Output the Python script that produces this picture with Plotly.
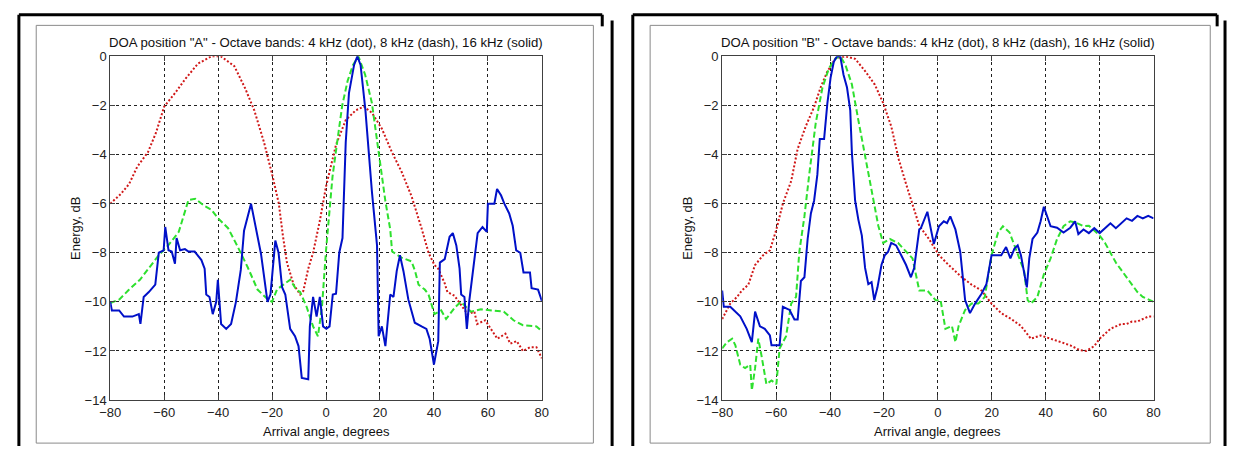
import plotly.graph_objects as go

W, H = 1234, 454

# ---------------- Data ----------------
# Position A
redA_x = [-80,-76,-73,-70,-66,-63,-60,-56,-52,-47.5,-42.5,-39,-34,-30,-26.6,-23,-20,-17.5,-16,-14.5,-12,-9.6,-8.4,-6.6,-4.8,-2.3,0,3.7,7.3,11,14,17,20.7,24.4,28,31.7,35.4,38,40.2,41.6,44,45,47.6,50,52.5,55,56,59,61,63.5,66.5,68.3,70.7,73,75.6,78,80]
redA_y = [-6,-5.6,-5.2,-4.5,-3.9,-3.1,-2.05,-1.5,-0.9,-0.3,0,0,-0.4,-1.3,-2.2,-3.5,-4.8,-6.0,-7.3,-8.4,-9.3,-9.7,-9.55,-8.65,-8.0,-6.7,-5.3,-3.6,-2.6,-2.2,-2.05,-2.3,-2.95,-3.9,-4.7,-5.7,-7.0,-8.0,-8.5,-8.65,-9.25,-9.6,-9.75,-10.1,-10.5,-10.4,-10.9,-10.75,-11.1,-11.5,-11.3,-11.7,-11.6,-12.0,-11.85,-11.85,-12.3]

greenA_x = [-80,-76.6,-73,-69,-65.5,-62,-58.5,-54.6,-51,-48.5,-45,-42.5,-40,-36.3,-33,-29,-25.4,-21.6,-20,-18.2,-15.8,-13.3,-11,-9.6,-7.2,-4.8,-3,-1.5,0,1.2,2.4,4,6,8,10,12,14.5,17,19.5,22,23.8,24.5,28,31.7,33,34.3,36.6,38,40.2,42.7,44.5,46.3,48,50,53.7,57.4,61,65.9,69.5,73,78,80]
greenA_y = [-10.05,-9.9,-9.5,-9.1,-8.6,-8.1,-7.7,-7.15,-5.85,-5.8,-6.1,-6.25,-6.6,-7.0,-7.7,-8.6,-9.5,-9.9,-10.0,-9.5,-9.3,-9.1,-9.5,-9.6,-10.2,-11.0,-11.4,-10.2,-7.9,-6.3,-4.9,-3.6,-2.0,-1.0,-0.35,0,-0.75,-1.9,-3.9,-5.9,-7.05,-7.95,-8.2,-8.35,-8.75,-9.3,-9.5,-9.7,-10.5,-10.35,-10.7,-10.45,-10.2,-10.0,-10.4,-10.3,-10.35,-10.4,-10.75,-10.95,-11.0,-11.2]

blueA_x = [-80,-79.4,-76.7,-74.9,-71.8,-69.4,-68.8,-67.6,-65.7,-63.3,-62,-60.2,-59.6,-59,-58.4,-57.2,-56,-55.4,-54.1,-52.3,-51,-48.7,-46.2,-45,-44.4,-43.2,-42,-40.7,-40.1,-38.9,-37,-35.2,-33.4,-31.6,-30.4,-27.8,-25.4,-24.1,-21.7,-20.6,-18.8,-17.6,-16.3,-15.1,-13.3,-11.5,-10.2,-9,-6.6,-6,-4.8,-3.5,-2.3,-1.1,0.1,1.3,2.5,3.7,4.9,6.1,7.3,8.5,10.4,11.6,12.8,14.6,17,18.3,18.9,19.5,20.7,22,23.8,25,26.2,27.4,28.7,30.5,32.9,35.4,37.2,38.4,40,41.6,42.2,44,45.8,47,48.3,49.5,50.1,51.3,52.2,53.1,55,56.2,58,59.6,60,62.4,63.4,64.9,66.1,67.3,67.9,69.2,69.8,70.5,72,73.2,75.6,76.2,78.6,80]
blueA_y = [-10.0,-10.35,-10.35,-10.6,-10.6,-10.5,-10.9,-9.8,-9.6,-9.3,-8.0,-7.9,-6.95,-7.35,-7.9,-7.95,-8.45,-7.4,-7.9,-7.85,-7.95,-7.95,-8.3,-8.65,-9.7,-9.8,-10.5,-10.0,-9.1,-10.9,-11.1,-10.9,-10.0,-8.7,-7.1,-6.0,-7.4,-8.05,-10.0,-9.7,-7.5,-8.0,-9.4,-9.7,-11.1,-11.4,-11.8,-13.1,-13.15,-11.0,-9.8,-10.6,-9.8,-11.0,-11.1,-11.0,-9.7,-9.67,-8.0,-7.4,-3.5,-1.5,-0.35,0,-0.35,-2.2,-5.5,-7.2,-7.7,-11.4,-11.0,-11.8,-9.7,-9.8,-8.75,-8.1,-8.75,-9.9,-10.85,-11.0,-11.1,-11.5,-12.55,-11.6,-8.4,-8.26,-7.35,-7.2,-7.7,-8.65,-9.7,-9.8,-11.1,-9.96,-8.4,-7.2,-6.95,-7.15,-6.0,-6.0,-5.4,-5.67,-6.0,-6.26,-6.4,-6.9,-7.44,-7.9,-8.0,-8.8,-8.8,-9.44,-9.5,-9.96]

# Position B
redB_x = [-80,-77,-74.5,-72.7,-70.3,-67.8,-64.8,-62.3,-59.9,-57.5,-54.4,-52,-49,-45.9,-43.5,-41,-38,-34.3,-30.7,-27,-23.4,-20.3,-17.3,-14.5,-11.8,-9.4,-6.9,-3.3,0.4,4,6.5,8.9,12.5,16.2,19.9,23.5,27.2,30.8,34.5,38.1,41.8,45.4,49.1,52.7,55,58,60,62,64,66,68,70,72,74,76,78,80]
redB_y = [-10.7,-10.07,-9.8,-9.54,-9.3,-8.5,-8.1,-7.9,-7.05,-6.0,-5.08,-3.77,-2.85,-2.06,-1.27,-0.62,-0.09,0,-0.1,-0.6,-1.15,-1.9,-2.85,-4.2,-5.2,-6.0,-6.9,-7.44,-8.1,-8.5,-8.75,-9.0,-9.3,-9.54,-10.07,-10.46,-10.7,-10.98,-11.5,-11.37,-11.5,-11.64,-11.77,-11.97,-12.0,-11.8,-11.5,-11.3,-11.1,-11.0,-10.9,-10.9,-10.8,-10.8,-10.7,-10.6,-10.6]

greenB_x = [-80,-78.2,-76.3,-75.1,-73.3,-71.5,-69.6,-69,-67.8,-66.6,-65.4,-63.6,-61.7,-59.9,-58.7,-56.3,-54.4,-52.6,-51.4,-49.5,-47.7,-45.3,-42.8,-40.4,-38,-36.2,-34.3,-31.9,-29.5,-27,-24.6,-22.1,-20.3,-17.8,-14.8,-11.8,-9.4,-6.9,-3.9,-0.85,1,2.8,5.2,6.5,7.7,10.1,12.5,15,17.4,19.9,22.3,24.1,26.6,28.4,30.2,32,33.3,34.5,36.9,39.3,41.8,44.2,46.6,49.1,51.5,54,56,58,60,62,64,66,68,70,72,74,76,78,80]
greenB_y = [-11.9,-11.64,-11.5,-11.77,-12.56,-12.7,-12.56,-13.6,-12.7,-11.5,-12.2,-13.35,-13.2,-13.35,-11.9,-11.4,-10.07,-9.8,-7.97,-6.52,-4.8,-2.72,-1.27,-0.49,-0.09,0,-0.35,-1.14,-2.6,-4.03,-5.34,-6.9,-7.6,-7.44,-7.6,-7.97,-8.23,-9.54,-9.54,-9.93,-9.93,-11.1,-10.98,-11.64,-10.98,-10.33,-10.07,-10.07,-9.8,-8.1,-7.18,-6.92,-7.18,-7.7,-8.23,-8.75,-9.93,-10.07,-9.8,-8.88,-8.23,-7.44,-6.92,-6.72,-6.79,-6.92,-6.9,-7.1,-7.3,-7.6,-8.0,-8.4,-8.7,-9.0,-9.3,-9.6,-9.8,-9.9,-10.0]

blueB_x = [-80,-79.4,-77,-74.5,-73.3,-70.9,-69,-67.8,-66,-64.2,-62.3,-61.7,-58.7,-57.5,-55,-53.2,-52,-50.8,-49.5,-48.3,-47.1,-45.9,-44.7,-43.8,-42.2,-41,-39.8,-38.6,-37.4,-36.2,-35,-33.7,-32.5,-31.9,-30.7,-29.5,-28.2,-27,-25.8,-24.6,-23.6,-22.4,-20.9,-19.7,-18.5,-17.3,-15.5,-13.6,-11.8,-10,-8.8,-6.9,-6.3,-3.9,-1.5,0.4,2.2,3.4,4.6,6.5,8.3,10.1,11.9,13.8,16.2,18,19.9,21.7,23.5,25.3,26.9,28.4,29.6,30.8,32,33,33.9,35.1,36.9,38.1,39.3,40.6,41.8,44.2,46.6,49.1,50.9,52.1,54,56,58,60,62,64,66,68,70,72,74,76,78,80]
blueB_y = [-9.54,-10.2,-10.2,-10.46,-10.59,-11.1,-11.64,-10.4,-11.0,-11.1,-11.37,-11.77,-11.77,-10.2,-10.33,-10.72,-10.72,-9.15,-9.0,-7.44,-6.4,-5.87,-4.82,-3.37,-3.37,-1.93,-0.88,-0.22,0,0,-0.75,-1.27,-2.2,-3.9,-5.87,-6.65,-7.3,-8.62,-9.28,-9.2,-9.93,-9.41,-8.49,-8.1,-7.97,-7.6,-7.7,-8.1,-8.5,-9.0,-8.62,-7.05,-7.0,-6.33,-7.64,-6.92,-6.72,-6.79,-6.52,-7.05,-7.97,-9.93,-10.46,-10.07,-9.67,-9.28,-8.1,-8.1,-8.1,-7.77,-8.23,-7.83,-7.7,-8.1,-8.75,-9.41,-8.23,-7.44,-7.18,-6.72,-6.13,-6.52,-6.92,-6.98,-7.18,-6.98,-6.72,-7.24,-7.05,-7.2,-7.0,-7.2,-7.0,-6.8,-7.0,-6.8,-6.6,-6.7,-6.5,-6.6,-6.5,-6.6]

x_ticks = [-80, -60, -40, -20, 0, 20, 40, 60, 80]
y_ticks = [0, -2, -4, -6, -8, -10, -12, -14]

titles = ['DOA position "A" - Octave bands: 4 kHz (dot), 8 kHz (dash), 16 kHz (solid)',
          'DOA position "B" - Octave bands: 4 kHz (dot), 8 kHz (dash), 16 kHz (solid)']
xlabel = "Arrival angle, degrees"
ylabel = "Energy, dB"

# ---------------- Styles ----------------
RED, GREEN, BLUE = "#d01818", "#2ee02e", "#0010c8"
FONT = "Liberation Sans, Arial, sans-serif"

fig = go.Figure()

def add_panel(suffix, rx, ry, gx, gy, bx, by):
    xa = "x" + suffix
    ya = "y" + suffix
    fig.add_trace(go.Scatter(x=rx, y=ry, mode="lines", xaxis=xa, yaxis=ya,
                             line=dict(color=RED, width=2, dash="2px,2px"), showlegend=False))
    fig.add_trace(go.Scatter(x=gx, y=gy, mode="lines", xaxis=xa, yaxis=ya,
                             line=dict(color=GREEN, width=2, dash="6px,3px"), showlegend=False))
    fig.add_trace(go.Scatter(x=bx, y=by, mode="lines", xaxis=xa, yaxis=ya,
                             line=dict(color=BLUE, width=2), showlegend=False))

add_panel("", redA_x, redA_y, greenA_x, greenA_y, blueA_x, blueA_y)
add_panel("2", redB_x, redB_y, greenB_x, greenB_y, blueB_x, blueB_y)

def px2fx(p): return p / W
def py2fy(p): return 1 - p / H

axis_common = dict(showline=True, linecolor="#404040", linewidth=1, mirror="ticks",
                   ticks="inside", ticklen=5, tickcolor="#404040",
                   showgrid=True, gridcolor="#202020", gridwidth=1, griddash="3px,3px",
                   zeroline=False, tickfont=dict(family=FONT, size=13, color="#222"))

y0, y1 = py2fy(406.5), py2fy(51)
fig.update_layout(
    width=W, height=H, margin=dict(l=0, r=0, t=0, b=0),
    paper_bgcolor="white", plot_bgcolor="white",
    xaxis=dict(domain=[px2fx(100.7), px2fx(538.7)], range=[-80, 80], tickvals=x_ticks,
               anchor="y", **axis_common),
    yaxis=dict(domain=[y0, y1], range=[-14, 0], tickvals=y_ticks, anchor="x", **axis_common),
    xaxis2=dict(domain=[px2fx(721.7), px2fx(1159.5)], range=[-80, 80], tickvals=x_ticks,
                anchor="y2", **axis_common),
    yaxis2=dict(domain=[y0, y1], range=[-14, 0], tickvals=y_ticks, anchor="x2", **axis_common),
)

ann = []
shapes = []
for i, (l, r, fl, fr) in enumerate([(100.7, 538.7, 25.6, 591), (721.7, 1159.5, 648.6, 1217)]):
    cx = (l + r) / 2
    ann.append(dict(text=titles[i], x=px2fx(cx), y=py2fy(37), xref="paper", yref="paper",
                    showarrow=False, font=dict(family=FONT, size=13.2, color="#111"),
                    xanchor="center", yanchor="middle"))
    ann.append(dict(text=xlabel, x=px2fx(cx), y=py2fy(439), xref="paper", yref="paper",
                    showarrow=False, font=dict(family=FONT, size=13, color="#111"),
                    xanchor="center", yanchor="middle"))
    ann.append(dict(text=ylabel, x=px2fx(l - 36), y=py2fy(228.7), xref="paper", yref="paper",
                    showarrow=False, textangle=-90, font=dict(family=FONT, size=13, color="#111"),
                    xanchor="center", yanchor="middle"))
    # light gray frame around each panel
    shapes.append(dict(type="rect", xref="paper", yref="paper",
                       x0=px2fx(fl), x1=px2fx(fr), y0=py2fy(451), y1=py2fy(19),
                       line=dict(color="#8a8a8a", width=1)))

# thick black document borders
def seg(xa, ya, xb, yb, w=3):
    shapes.append(dict(type="line", xref="paper", yref="paper",
                       x0=px2fx(xa), y0=py2fy(ya), x1=px2fx(xb), y1=py2fy(yb),
                       line=dict(color="black", width=w)))

seg(8, 8, 600, 8)
seg(8, 8, 8, 454)
seg(600, 8, 600, 20)
seg(610, 14, 610, 454)
seg(631, 8, 1224, 8)
seg(631, 8, 631, 454)
seg(1224, 8, 1224, 20)
seg(1232, 14, 1232, 454)

fig.update_layout(annotations=ann, shapes=shapes)
fig.write_html("out.html", config={"displayModeBar": False},
               post_script="document.body.style.margin='0';document.body.style.overflow='hidden';")
